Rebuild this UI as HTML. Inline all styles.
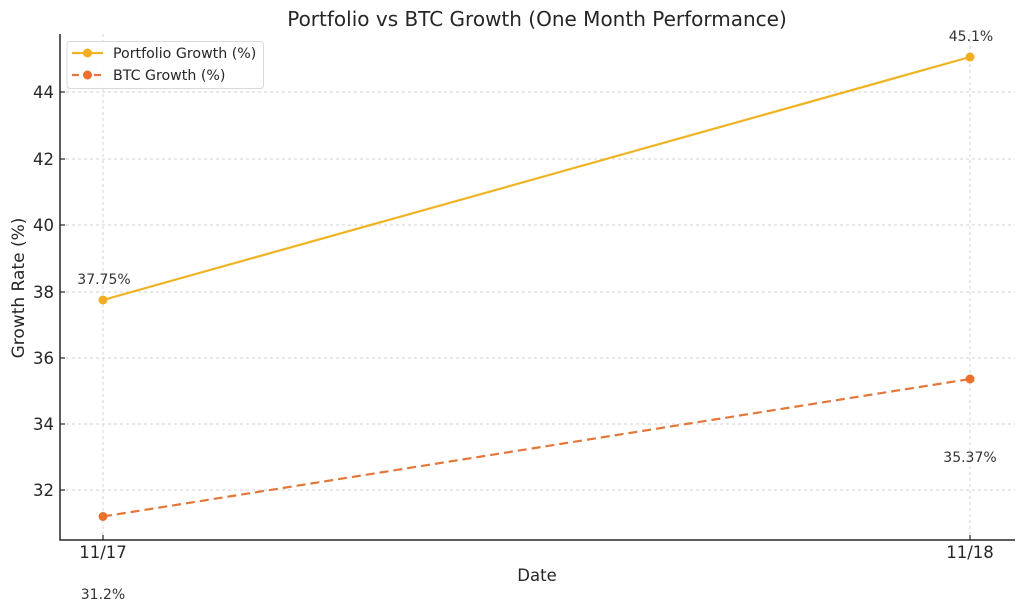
<!DOCTYPE html>
<html>
<head>
<meta charset="utf-8">
<style>
html,body{margin:0;padding:0;background:#fff;}
svg{display:block;}
text{font-family:"DejaVu Sans","Liberation Sans",sans-serif;fill:#262626;}
</style>
</head>
<body>
<svg width="1024" height="613" viewBox="0 0 1024 613" xmlns="http://www.w3.org/2000/svg">
  <rect x="0" y="0" width="1024" height="613" fill="#fff"/>
  <!-- grid -->
  <g stroke="#d2d2d2" stroke-width="0.9" stroke-dasharray="3,3" fill="none">
    <line x1="60" y1="92" x2="1015" y2="92"/>
    <line x1="60" y1="159" x2="1015" y2="159"/>
    <line x1="60" y1="225" x2="1015" y2="225"/>
    <line x1="60" y1="292" x2="1015" y2="292"/>
    <line x1="60" y1="358" x2="1015" y2="358"/>
    <line x1="60" y1="424" x2="1015" y2="424"/>
    <line x1="60" y1="490" x2="1015" y2="490"/>
    <line x1="103" y1="34" x2="103" y2="540"/>
    <line x1="970" y1="34" x2="970" y2="540"/>
  </g>
  <!-- spines -->
  <g stroke="#262626" stroke-width="1.5" fill="none">
    <line x1="60" y1="34" x2="60" y2="540.5"/>
    <line x1="59.5" y1="540" x2="1015" y2="540"/>
  </g>
  <!-- ticks (inward) -->
  <g stroke="#262626" stroke-width="1.2">
    <line x1="60" y1="92" x2="65" y2="92"/>
    <line x1="60" y1="159" x2="65" y2="159"/>
    <line x1="60" y1="225" x2="65" y2="225"/>
    <line x1="60" y1="292" x2="65" y2="292"/>
    <line x1="60" y1="358" x2="65" y2="358"/>
    <line x1="60" y1="424" x2="65" y2="424"/>
    <line x1="60" y1="490" x2="65" y2="490"/>
    <line x1="103" y1="535" x2="103" y2="540"/>
    <line x1="970" y1="535" x2="970" y2="540"/>
  </g>
  <!-- y tick labels -->
  <g font-size="16.5" text-anchor="end">
    <text x="54" y="98">44</text>
    <text x="54" y="165">42</text>
    <text x="54" y="231">40</text>
    <text x="54" y="298">38</text>
    <text x="54" y="364">36</text>
    <text x="54" y="430">34</text>
    <text x="54" y="496">32</text>
  </g>
  <!-- x tick labels -->
  <g font-size="16.5" text-anchor="middle">
    <text x="103" y="558">11/17</text>
    <text x="970" y="558">11/18</text>
  </g>
  <!-- axis labels -->
  <text x="537" y="581" font-size="16.5" text-anchor="middle">Date</text>
  <text x="0" y="0" font-size="17" text-anchor="middle" transform="translate(24,288) rotate(-90)">Growth Rate (%)</text>
  <!-- title -->
  <text x="537" y="26" font-size="20" text-anchor="middle">Portfolio vs BTC Growth (One Month Performance)</text>
  <!-- series -->
  <line x1="103" y1="300" x2="970" y2="57" stroke="#f0b323" stroke-width="2.2"/>
  <circle cx="103" cy="300" r="4.5" fill="#f0ad1e"/>
  <circle cx="970" cy="57" r="4.5" fill="#f0ad1e"/>
  <line x1="103" y1="516.5" x2="970" y2="379" stroke="#e3773a" stroke-width="2.2" stroke-dasharray="9,5"/>
  <circle cx="103" cy="516.5" r="4.5" fill="#ec6f2b"/>
  <circle cx="970" cy="379" r="4.5" fill="#ec6f2b"/>
  <!-- annotations -->
  <g font-size="14" text-anchor="middle">
    <text x="104" y="284" style="fill:#333">37.75%</text>
    <text x="971" y="41" style="fill:#333">45.1%</text>
    <text x="103" y="599" style="fill:#333">31.2%</text>
    <text x="970" y="462" style="fill:#333">35.37%</text>
  </g>
  <!-- legend -->
  <rect x="67" y="41.5" width="196.5" height="47" rx="3" ry="3" fill="#fff" fill-opacity="0.85" stroke="#d9d9d9" stroke-width="1"/>
  <line x1="72" y1="53" x2="103" y2="53" stroke="#f0b323" stroke-width="2.2"/>
  <circle cx="87.5" cy="53" r="4.5" fill="#f0ad1e"/>
  <line x1="72" y1="75" x2="103" y2="75" stroke="#e3773a" stroke-width="2.2" stroke-dasharray="7,4"/>
  <circle cx="87.5" cy="75" r="4.5" fill="#ec6f2b"/>
  <g font-size="14.2">
    <text x="113" y="58">Portfolio Growth (%)</text>
    <text x="113" y="80">BTC Growth (%)</text>
  </g>
</svg>
</body>
</html>
